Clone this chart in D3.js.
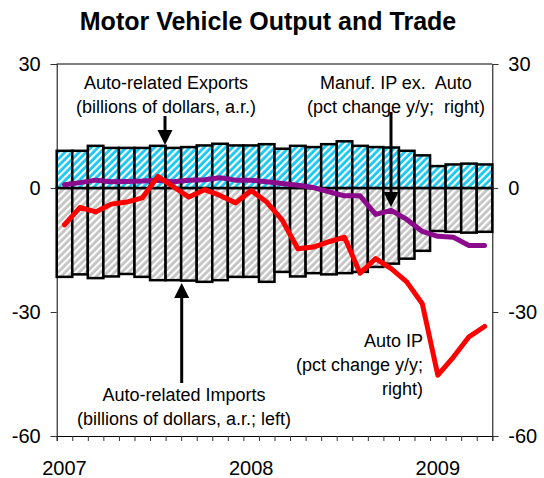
<!DOCTYPE html>
<html>
<head>
<meta charset="utf-8">
<script src="https://cdn.jsdelivr.net/npm/d3@7"></script>
<style>
  html, body { margin: 0; padding: 0; background: #fff; }
  svg { display: block; font-family: "Liberation Sans", Arial, sans-serif; }
  text { white-space: pre; }
</style>
</head>
<body>
<svg id="chart" width="544" height="478"></svg>
<script>
// Monthly categories, Jan 2007 – Apr 2009
const months = [
  "2007-01","2007-02","2007-03","2007-04","2007-05","2007-06","2007-07","2007-08","2007-09","2007-10","2007-11","2007-12",
  "2008-01","2008-02","2008-03","2008-04","2008-05","2008-06","2008-07","2008-08","2008-09","2008-10","2008-11","2008-12",
  "2009-01","2009-02","2009-03","2009-04"
];
// Auto-related exports, billions of dollars a.r. (left axis)
const exportsVals = [9.0, 9.0, 10.2, 9.7, 9.7, 9.7, 10.2, 9.7, 9.9, 10.3, 10.7, 10.3, 10.3, 10.6, 9.5,
  10.2, 9.9, 10.6, 11.3, 10.2, 9.9, 9.8, 9.0, 7.9, 5.3, 5.7, 5.9, 5.7];
// Auto-related imports, billions of dollars a.r. (left axis, shown negative)
const importsVals = [-21.5, -20.9, -21.8, -21.4, -20.8, -21.5, -22.3, -22.3, -22.4, -22.7, -22.3, -21.5, -21.5, -22.7, -20.3,
  -21.4, -20.6, -20.9, -20.6, -20.3, -19.1, -18.3, -17.1, -15.2, -10.4, -10.6, -10.8, -10.6];
// Auto IP, pct change y/y (right axis)
const autoIP = [-8.9, -4.7, -5.8, -3.9, -3.4, -2.4, 2.8, 0.3, -2.2, -0.4, -1.8, -3.6, -0.6, -3.4, -7.8,
  -14.7, -14.3, -13.0, -11.9, -20.6, -17.1, -19.5, -22.7, -28.0, -45.3, -40.9, -36.0, -33.5];
// Manufacturing IP ex. auto, pct change y/y (right axis)
const manufIP = [0.8, 1.3, 1.9, 1.5, 1.6, 1.7, 1.9, 1.5, 1.9, 2.0, 2.5, 1.9, 1.9, 1.5, 1.1,
  0.65, 0.1, -0.9, -1.9, -1.9, -6.4, -5.4, -7.6, -10.5, -11.7, -11.9, -13.9, -13.9];
// Axis ticks and year labels
const leftTicks = [-60, -30, 0, 30];
const rightTicks = [-60, -30, 0, 30];
const yearLabels = ["2007", "2008", "2009"];

const svg = d3.select("#chart");
const plotL = 56.7, plotR = 492.3, plotT = 64, plotB = 436;

const x = d3.scaleBand().domain(months).range([plotL, plotR]).paddingInner(0).paddingOuter(0);
const xIdx = d3.scaleLinear().domain([0, months.length]).range([plotL, plotR]);
const yL = d3.scaleLinear().domain([-60, 30]).range([plotB, plotT]);
const yR = d3.scaleLinear().domain([-60, 30]).range([plotB, plotT]);

// Hatch patterns
const defs = svg.append("defs");
function hatch(id, base) {
  const p = defs.append("pattern").attr("id", id).attr("patternUnits", "userSpaceOnUse")
    .attr("width", 5).attr("height", 5).attr("patternTransform", "rotate(45)");
  p.append("rect").attr("width", 5).attr("height", 5).attr("fill", base);
  p.append("rect").attr("x", 0).attr("width", 2.2).attr("height", 5).attr("fill", "#fff");
}
hatch("hatchCyan", "#13c8f2");
hatch("hatchGray", "#c4c4c4");

// Title
svg.append("text").attr("x", 268).attr("y", 30).attr("text-anchor", "middle")
  .attr("font-size", 25).attr("font-weight", "bold").text("Motor Vehicle Output and Trade");

// Bars
const gBars = svg.append("g");
gBars.selectAll("rect.imp").data(months).join("rect").attr("class", "imp")
  .attr("x", d => x(d)).attr("width", x.bandwidth())
  .attr("y", (d, i) => yL(0)).attr("height", (d, i) => yL(importsVals[i]) - yL(0))
  .attr("fill", "url(#hatchGray)").attr("stroke", "#000").attr("stroke-width", 2.5);
gBars.selectAll("rect.exp").data(months).join("rect").attr("class", "exp")
  .attr("x", d => x(d)).attr("width", x.bandwidth())
  .attr("y", (d, i) => yL(exportsVals[i])).attr("height", (d, i) => yL(0) - yL(exportsVals[i]))
  .attr("fill", "url(#hatchCyan)").attr("stroke", "#000").attr("stroke-width", 2.5);

// Lines
const cx = d => x(d) + x.bandwidth() / 2;
const lineManuf = d3.line().x(d => cx(d)).y((d, i) => yR(manufIP[i]));
const lineAuto = d3.line().x(d => cx(d)).y((d, i) => yR(autoIP[i]));
svg.append("path").attr("d", lineManuf(months)).attr("fill", "none")
  .attr("stroke", "#8c0a8c").attr("stroke-width", 5).attr("stroke-linejoin", "round").attr("stroke-linecap", "round");
svg.append("path").attr("d", lineAuto(months)).attr("fill", "none")
  .attr("stroke", "#ff0000").attr("stroke-width", 5).attr("stroke-linejoin", "round").attr("stroke-linecap", "round");

// Frame and axes
svg.append("line").attr("x1", plotL).attr("x2", plotR).attr("y1", plotT).attr("y2", plotT).attr("stroke", "#000");
const fmt = d => String(d);
const axL = svg.append("g").attr("transform", `translate(${plotL},0)`)
  .call(d3.axisLeft(yL).tickValues(leftTicks).tickSize(6).tickPadding(10).tickFormat(fmt));
const axR = svg.append("g").attr("transform", `translate(${plotR},0)`)
  .call(d3.axisRight(yR).tickValues(rightTicks).tickSize(6).tickPadding(10).tickFormat(fmt));
const axB = svg.append("g").attr("transform", `translate(0,${plotB})`)
  .call(d3.axisBottom(xIdx).tickValues(d3.range(0, months.length + 1)).tickSize(5).tickFormat(""));
[axL, axR, axB].forEach(a => {
  a.select(".domain").attr("stroke", "#000");
  a.selectAll(".tick line").attr("stroke", "#333");
  a.selectAll(".tick text").attr("font-size", 20).attr("fill", "#000")
    .attr("font-family", "\"Liberation Sans\", Arial, sans-serif");
});
svg.append("g").selectAll("text").data(yearLabels).join("text")
  .attr("x", d => cx(d + "-01")).attr("y", 475).attr("text-anchor", "middle")
  .attr("font-size", 20).text(d => d);

// Annotations
function arrow(xp, y1, y2) {
  const dir = y2 > y1 ? 1 : -1;
  svg.append("line").attr("x1", xp).attr("x2", xp).attr("y1", y1).attr("y2", y2 - dir * 12)
    .attr("stroke", "#000").attr("stroke-width", 3);
  svg.append("path").attr("d", `M${xp - 7.5},${y2 - dir * 15}L${xp + 7.5},${y2 - dir * 15}L${xp},${y2}Z`).attr("fill", "#000");
}
function label(lines, xp, y0, anchor) {
  const t = svg.append("text").attr("font-size", 18).attr("text-anchor", anchor);
  lines.forEach((s, i) => t.append("tspan").attr("x", xp).attr("y", y0 + i * 24).text(s));
}
label(["Auto-related Exports", "(billions of dollars, a.r.)"], 166, 89, "middle");
arrow(165, 116, 145);
label(["Manuf. IP ex.  Auto", "(pct change y/y;  right)"], 396, 89, "middle");
arrow(391, 112, 207);
arrow(181.7, 383, 283);
label(["Auto-related Imports", "(billions of dollars, a.r.; left)"], 184, 401, "middle");
label(["Auto IP", "(pct change y/y;", "right)"], 423, 347, "end");
</script>
</body>
</html>
